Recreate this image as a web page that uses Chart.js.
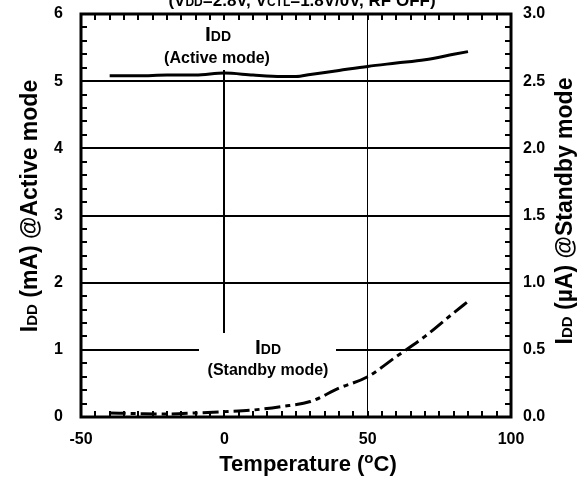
<!DOCTYPE html>
<html>
<head>
<meta charset="utf-8">
<script src="https://cdn.jsdelivr.net/npm/chart.js@4.4.1/dist/chart.umd.min.js"></script>
<style>
  html, body { margin: 0; padding: 0; background: #fff; }
</style>
</head>
<body>
<canvas id="iddChart" width="582" height="480"></canvas>
<script>
const FONT = '"Liberation Sans", Arial, sans-serif';

// temperature (°C) and supply current
const tempActive = [-40, -30, -20, -10, 0, 10, 20, 25, 30, 40, 50, 60, 70, 80, 85];
const iddActive = [5.08, 5.08, 5.09, 5.09, 5.12, 5.09, 5.07, 5.07, 5.10, 5.16, 5.22, 5.27, 5.32, 5.40, 5.44]; // mA
const tempStandby = [-40, -30, -20, -10, 0, 10, 20, 30, 40, 50, 60, 70, 80, 85];
const iddStandby = [0.03, 0.025, 0.022, 0.03, 0.04, 0.052, 0.078, 0.115, 0.215, 0.30, 0.45, 0.60, 0.775, 0.86]; // uA

const xTicks = [-50, 0, 50, 100];
const leftTicks = [0, 1, 2, 3, 4, 5, 6];
const rightTicks = [0.0, 0.5, 1.0, 1.5, 2.0, 2.5, 3.0];

// draw text made of pieces with different sizes (subscripts etc.)
function drawParts(ctx, parts, x, y) {
  let w = 0;
  parts.forEach(p => { ctx.font = 'bold ' + p[1] + 'px ' + FONT; w += ctx.measureText(p[0]).width; });
  let cx = x - w / 2;
  parts.forEach(p => {
    ctx.font = 'bold ' + p[1] + 'px ' + FONT;
    ctx.fillText(p[0], cx, y + (p[2] || 0));
    cx += ctx.measureText(p[0]).width;
  });
}

const decorations = {
  id: 'decorations',
  beforeDatasetsDraw(chart) {
    const ctx = chart.ctx;
    ctx.save();
    ctx.fillStyle = '#fff';
    // label boxes hide the grid behind the text
    ctx.fillRect(150, 19, 136, 51);
    ctx.fillRect(199, 333, 137, 77);
    ctx.fillStyle = '#000';
    ctx.textBaseline = 'alphabetic';
    drawParts(ctx, [['I', 21], ['DD', 14]], 218, 41);
    drawParts(ctx, [['(Active mode)', 16]], 217, 63);
    drawParts(ctx, [['I', 21], ['DD', 14]], 268, 354);
    drawParts(ctx, [['(Standby mode)', 16]], 268, 375);
    ctx.restore();
  },
  afterDatasetsDraw(chart) {
    const ctx = chart.ctx;
    const a = chart.chartArea;
    const sx = chart.scales.x, sy = chart.scales.y;
    ctx.save();
    ctx.strokeStyle = '#000';
    ctx.lineWidth = 2;
    ctx.beginPath();
    for (let v = -50; v <= 100; v += 5) {
      const px = Math.round(sx.getPixelForValue(v));
      ctx.moveTo(px, a.bottom); ctx.lineTo(px, a.bottom - 6);
      ctx.moveTo(px, a.top); ctx.lineTo(px, a.top + 6);
    }
    for (let i = 0; i <= 30; i++) {
      const py = Math.round(sy.getPixelForValue(i * 0.2));
      ctx.moveTo(a.left, py); ctx.lineTo(a.left + 6, py);
      ctx.moveTo(a.right, py); ctx.lineTo(a.right - 6, py);
    }
    ctx.stroke();
    ctx.lineWidth = 3;
    ctx.strokeRect(a.left, a.top, a.right - a.left, a.bottom - a.top);

    ctx.fillStyle = '#000';
    ctx.textBaseline = 'alphabetic';
    // top condition line, partly cut off by the page edge
    drawParts(ctx, [['(V', 17], ['DD', 12], ['=2.8V, V', 17], ['CTL', 12], ['=1.8V/0V, RF OFF)', 17]], 302, 6);
    // x title
    drawParts(ctx, [['Temperature (', 22], ['o', 15, -8], ['C)', 22]], 308, 471);
    // y titles
    ctx.save();
    ctx.translate(37, 206);
    ctx.rotate(-Math.PI / 2);
    drawParts(ctx, [['I', 23], ['DD', 15], [' (mA) @Active mode', 23]], 0, 0);
    ctx.restore();
    ctx.save();
    ctx.translate(572, 211);
    ctx.rotate(-Math.PI / 2);
    drawParts(ctx, [['I', 23], ['DD', 15], [' (\u00b5A) @Standby mode', 23]], 0, 0);
    ctx.restore();
    ctx.restore();
  }
};

const tickFont = { family: FONT, size: 16, weight: 'bold' };

// fixed axis sizes so the plot frame sits where the original one does
function fixSize(prop, size) {
  return s => {
    s[prop] = size;
    s.paddingTop = 0; s.paddingBottom = 0;
    s.paddingLeft = 0; s.paddingRight = 0;
  };
}

new Chart(document.getElementById('iddChart').getContext('2d'), {
  type: 'line',
  data: {
    datasets: [{
      label: 'IDD Active',
      data: tempActive.map((t, i) => ({ x: t, y: iddActive[i] })),
      yAxisID: 'y',
      borderColor: '#000',
      borderWidth: 3,
      pointRadius: 0,
      cubicInterpolationMode: 'monotone'
    }, {
      label: 'IDD Standby',
      data: tempStandby.map((t, i) => ({ x: t, y: iddStandby[i] })),
      yAxisID: 'y2',
      borderColor: '#000',
      borderWidth: 3,
      borderDash: [16, 5, 5, 5],
      pointRadius: 0,
      cubicInterpolationMode: 'monotone'
    }]
  },
  options: {
    responsive: false,
    devicePixelRatio: 1,
    animation: false,
    layout: { padding: { top: 14, left: 0, right: 0, bottom: 0 } },
    plugins: { legend: { display: false }, tooltip: { enabled: false } },
    scales: {
      x: {
        type: 'linear',
        min: -50, max: 100,
        afterBuildTicks: s => { s.ticks = xTicks.map(v => ({ value: v })); },
        afterFit: fixSize('height', 63),
        border: { display: false },
        grid: {
          drawTicks: false,
          color: c => (c.tick.value === 0 || c.tick.value === 50) ? '#000' : 'rgba(0,0,0,0)',
          lineWidth: c => c.tick.value === 0 ? 2 : 1
        },
        ticks: { color: '#000', font: tickFont, padding: 13, maxRotation: 0 }
      },
      y: {
        position: 'left',
        min: 0, max: 6,
        afterBuildTicks: s => { s.ticks = leftTicks.map(v => ({ value: v })); },
        afterFit: fixSize('width', 81),
        border: { display: false },
        grid: {
          drawTicks: false,
          color: c => (c.tick.value > 0 && c.tick.value < 6) ? '#000' : 'rgba(0,0,0,0)',
          lineWidth: 2
        },
        ticks: { color: '#000', font: tickFont, padding: 18 }
      },
      y2: {
        position: 'right',
        min: 0, max: 3,
        afterBuildTicks: s => { s.ticks = rightTicks.map(v => ({ value: v })); },
        afterFit: fixSize('width', 71),
        border: { display: false },
        grid: { drawOnChartArea: false, drawTicks: false },
        ticks: { color: '#000', font: tickFont, padding: 12, callback: v => v.toFixed(1) }
      }
    }
  },
  plugins: [decorations]
});
</script>
</body>
</html>
